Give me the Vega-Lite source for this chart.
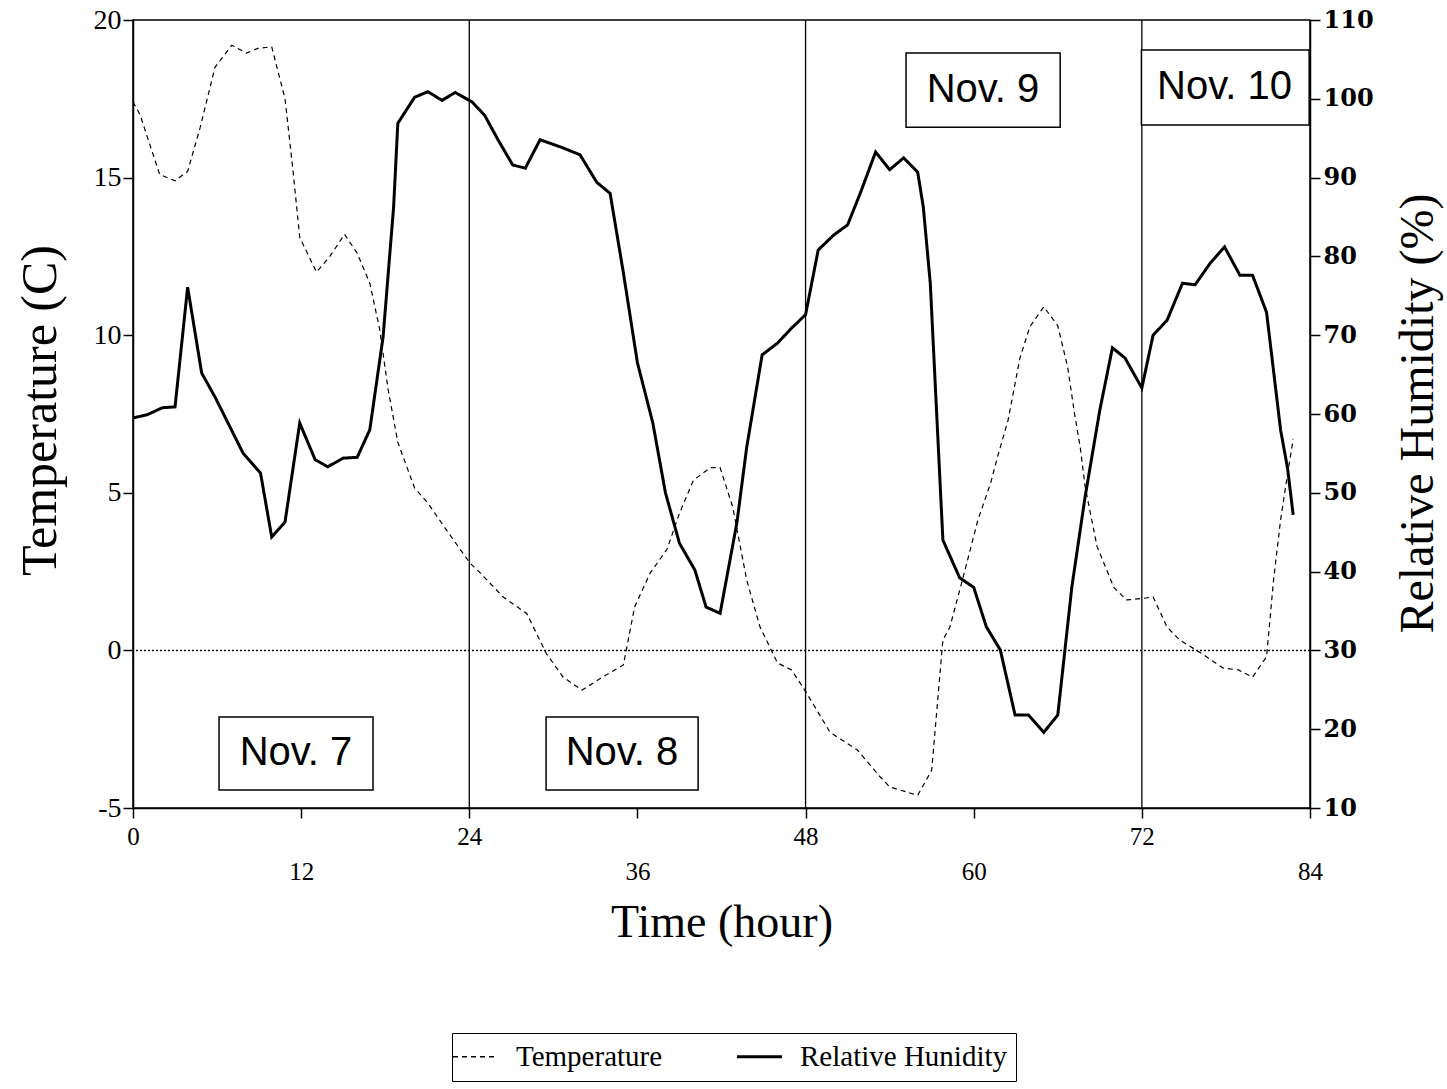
{
  "$schema": "https://vega.github.io/schema/vega-lite/v6.json",
  "width": 1177,
  "height": 788,
  "autosize": {"type": "none"},
  "padding": {"left": 133, "top": 20, "right": 137, "bottom": 281},
  "background": "white",
  "config": {
    "view": {"stroke": "black", "strokeWidth": 1.5},
    "font": "Liberation Serif",
    "axis": {
      "domainColor": "black",
      "domainWidth": 1.5,
      "tickColor": "black",
      "tickWidth": 1.5,
      "tickSize": 10,
      "grid": false,
      "labelFlush": false,
      "labelFont": "Liberation Serif",
      "labelFontSize": 25,
      "labelColor": "black",
      "titleFont": "Liberation Serif",
      "titleFontSize": 46,
      "titleFontWeight": "normal",
      "titleColor": "black"
    }
  },
  "datasets": {
    "temperature": [
      {"hour": 0, "temp": 17.4}, {"hour": 0.5, "temp": 17.0}, {"hour": 1.9, "temp": 15.1},
      {"hour": 3.0, "temp": 14.9}, {"hour": 3.9, "temp": 15.2}, {"hour": 4.8, "temp": 16.6},
      {"hour": 5.85, "temp": 18.5}, {"hour": 7.05, "temp": 19.2}, {"hour": 8.1, "temp": 18.95},
      {"hour": 8.9, "temp": 19.1}, {"hour": 9.9, "temp": 19.15}, {"hour": 10.85, "temp": 17.5},
      {"hour": 11.4, "temp": 15.3}, {"hour": 11.9, "temp": 13.1}, {"hour": 13.1, "temp": 12.0},
      {"hour": 14.05, "temp": 12.5}, {"hour": 15.1, "temp": 13.2}, {"hour": 16.0, "temp": 12.6},
      {"hour": 16.9, "temp": 11.65}, {"hour": 17.6, "temp": 10.2}, {"hour": 18.2, "temp": 8.3},
      {"hour": 18.9, "temp": 6.6}, {"hour": 20.1, "temp": 5.15}, {"hour": 21.05, "temp": 4.67},
      {"hour": 22.4, "temp": 3.8}, {"hour": 24.05, "temp": 2.77}, {"hour": 24.8, "temp": 2.45},
      {"hour": 26.4, "temp": 1.7}, {"hour": 28.1, "temp": 1.17}, {"hour": 29.5, "temp": -0.1},
      {"hour": 30.7, "temp": -0.85}, {"hour": 32.05, "temp": -1.26}, {"hour": 33.5, "temp": -0.85},
      {"hour": 35.0, "temp": -0.46}, {"hour": 35.8, "temp": 1.38}, {"hour": 36.9, "temp": 2.45},
      {"hour": 38.1, "temp": 3.2}, {"hour": 39.0, "temp": 4.35}, {"hour": 40.0, "temp": 5.4},
      {"hour": 41.2, "temp": 5.8}, {"hour": 41.9, "temp": 5.8}, {"hour": 42.8, "temp": 4.55},
      {"hour": 43.8, "temp": 2.23}, {"hour": 44.75, "temp": 0.74}, {"hour": 46.0, "temp": -0.4},
      {"hour": 47.0, "temp": -0.62}, {"hour": 48.0, "temp": -1.3}, {"hour": 49.75, "temp": -2.6},
      {"hour": 51.7, "temp": -3.16}, {"hour": 53.3, "temp": -4.0}, {"hour": 54.0, "temp": -4.33},
      {"hour": 56.0, "temp": -4.6}, {"hour": 57.0, "temp": -3.8}, {"hour": 57.8, "temp": 0.33},
      {"hour": 58.3, "temp": 0.74}, {"hour": 59.25, "temp": 2.33}, {"hour": 60.3, "temp": 4.14},
      {"hour": 61.2, "temp": 5.3}, {"hour": 61.7, "temp": 6.14}, {"hour": 62.45, "temp": 7.3},
      {"hour": 63.3, "temp": 9.28}, {"hour": 64.0, "temp": 10.26}, {"hour": 65.0, "temp": 10.9},
      {"hour": 66.0, "temp": 10.3}, {"hour": 66.7, "temp": 9.0}, {"hour": 67.2, "temp": 7.5},
      {"hour": 67.6, "temp": 6.45}, {"hour": 67.95, "temp": 5.2}, {"hour": 68.8, "temp": 3.3},
      {"hour": 70.0, "temp": 2.0}, {"hour": 70.9, "temp": 1.6}, {"hour": 72.1, "temp": 1.65},
      {"hour": 72.8, "temp": 1.7}, {"hour": 73.8, "temp": 0.74}, {"hour": 74.7, "temp": 0.33},
      {"hour": 76.2, "temp": -0.08}, {"hour": 77.8, "temp": -0.56}, {"hour": 78.9, "temp": -0.62},
      {"hour": 79.9, "temp": -0.85}, {"hour": 80.9, "temp": -0.2}, {"hour": 81.4, "temp": 2.23},
      {"hour": 81.9, "temp": 4.14}, {"hour": 82.4, "temp": 5.6}, {"hour": 82.8, "temp": 6.7}
    ],
    "humidity": [
      {"hour": 0, "rh": 59.5}, {"hour": 1, "rh": 59.9}, {"hour": 2.1, "rh": 60.8},
      {"hour": 3.0, "rh": 60.9}, {"hour": 3.9, "rh": 76.1}, {"hour": 4.9, "rh": 65.2},
      {"hour": 5.9, "rh": 62.0}, {"hour": 7.85, "rh": 55.05}, {"hour": 9.1, "rh": 52.5},
      {"hour": 9.9, "rh": 44.4}, {"hour": 10.85, "rh": 46.3}, {"hour": 11.9, "rh": 58.85},
      {"hour": 13.0, "rh": 54.2}, {"hour": 13.9, "rh": 53.3}, {"hour": 15.0, "rh": 54.4},
      {"hour": 16.0, "rh": 54.5}, {"hour": 16.9, "rh": 58.0}, {"hour": 17.85, "rh": 69.8},
      {"hour": 18.6, "rh": 86.3}, {"hour": 18.9, "rh": 96.9}, {"hour": 20.1, "rh": 100.2},
      {"hour": 21.05, "rh": 100.9}, {"hour": 22.05, "rh": 99.8}, {"hour": 23.0, "rh": 100.8},
      {"hour": 24.2, "rh": 99.6}, {"hour": 25.1, "rh": 97.9}, {"hour": 26.05, "rh": 94.8},
      {"hour": 27.1, "rh": 91.6}, {"hour": 28.0, "rh": 91.2}, {"hour": 29.05, "rh": 94.8},
      {"hour": 30.5, "rh": 93.9}, {"hour": 31.9, "rh": 92.9}, {"hour": 33.1, "rh": 89.4},
      {"hour": 34.05, "rh": 88.0}, {"hour": 35.0, "rh": 77.9}, {"hour": 36.0, "rh": 66.5},
      {"hour": 37.1, "rh": 58.85}, {"hour": 38.0, "rh": 50.0}, {"hour": 39.0, "rh": 43.6},
      {"hour": 40.1, "rh": 40.2}, {"hour": 40.9, "rh": 35.5}, {"hour": 41.9, "rh": 34.7},
      {"hour": 43.1, "rh": 46.2}, {"hour": 43.8, "rh": 55.8}, {"hour": 44.9, "rh": 67.5},
      {"hour": 46.0, "rh": 69.0}, {"hour": 47.0, "rh": 70.9}, {"hour": 48.0, "rh": 72.6},
      {"hour": 48.9, "rh": 80.8}, {"hour": 50.0, "rh": 82.7}, {"hour": 51.0, "rh": 84.0},
      {"hour": 51.9, "rh": 88.0}, {"hour": 53.0, "rh": 93.25}, {"hour": 54.0, "rh": 91.0},
      {"hour": 55.0, "rh": 92.5}, {"hour": 56.0, "rh": 90.7}, {"hour": 56.4, "rh": 86.3},
      {"hour": 56.9, "rh": 76.6}, {"hour": 57.8, "rh": 44.0}, {"hour": 59.0, "rh": 39.2},
      {"hour": 60.0, "rh": 38.0}, {"hour": 60.9, "rh": 33.0}, {"hour": 61.9, "rh": 30.05},
      {"hour": 62.95, "rh": 21.8}, {"hour": 63.9, "rh": 21.8}, {"hour": 65.0, "rh": 19.6},
      {"hour": 66.0, "rh": 21.8}, {"hour": 67.0, "rh": 38.0}, {"hour": 67.95, "rh": 49.5},
      {"hour": 69.0, "rh": 60.5}, {"hour": 69.9, "rh": 68.4}, {"hour": 70.8, "rh": 67.1},
      {"hour": 72.0, "rh": 63.3}, {"hour": 72.8, "rh": 70.0}, {"hour": 73.8, "rh": 71.9},
      {"hour": 74.9, "rh": 76.6}, {"hour": 75.8, "rh": 76.4}, {"hour": 76.9, "rh": 79.2},
      {"hour": 77.9, "rh": 81.2}, {"hour": 79.0, "rh": 77.6}, {"hour": 79.9, "rh": 77.6},
      {"hour": 80.9, "rh": 72.9}, {"hour": 81.9, "rh": 58.0}, {"hour": 82.4, "rh": 53.1},
      {"hour": 82.8, "rh": 47.2}
    ],
    "midnights": [{"hour": 24}, {"hour": 48}, {"hour": 72}],
    "days": [
      {"label": "Nov. 7", "h0": 6.14, "h1": 17.13, "t0": -2.11, "t1": -4.43, "hc": 11.63, "tc": -3.27},
      {"label": "Nov. 8", "h0": 29.48, "h1": 40.33, "t0": -2.11, "t1": -4.43, "hc": 34.9, "tc": -3.27},
      {"label": "Nov. 9", "h0": 55.17, "h1": 66.17, "t0": 18.95, "t1": 16.6, "hc": 60.66, "tc": 17.78},
      {"label": "Nov. 10", "h0": 71.97, "h1": 83.94, "t0": 19.05, "t1": 16.67, "hc": 77.9, "tc": 17.86}
    ]
  },
  "layer": [
    {
      "layer": [
        {
          "data": {"name": "midnights"},
          "mark": {"type": "rule", "color": "black", "strokeWidth": 1.3},
          "encoding": {
            "x": {"field": "hour", "type": "quantitative"}
          }
        },
        {
          "data": {"values": [{"temp": 0}]},
          "mark": {"type": "rule", "color": "black", "strokeWidth": 1.5, "strokeDash": [2, 2]},
          "encoding": {
            "y": {"field": "temp", "type": "quantitative"}
          }
        },
        {
          "data": {"name": "temperature"},
          "mark": {"type": "line", "color": "black", "strokeWidth": 1.2},
          "encoding": {
            "x": {
              "field": "hour",
              "type": "quantitative",
              "scale": {"domain": [0, 84], "nice": false, "zero": false},
              "axis": {
                "values": [0, 12, 24, 36, 48, 60, 72, 84],
                "labelPadding": 6,
                "labelExpr": "datum.value % 24 === 12 ? ['', datum.label] : datum.label",
                "labelLineHeight": 35,
                "title": "Time (hour)",
                "titleY": 114,
                "titleBaseline": "middle"
              }
            },
            "y": {
              "field": "temp",
              "type": "quantitative",
              "scale": {"domain": [-5, 20], "nice": false, "zero": false},
              "axis": {
                "orient": "left",
                "values": [-5, 0, 5, 10, 15, 20],
                "labelExpr": "datum.value + ''",
                "labelFontSize": 28,
                "labelPadding": 2,
                "title": "Temperature (C)",
                "titleFontSize": 50,
                "titleAngle": 270,
                "titleBaseline": "middle",
                "titleX": -93,
                "titleY": 390
              }
            },
            "strokeDash": {
              "datum": "Temperature",
              "type": "nominal",
              "scale": {"domain": ["Temperature", "Relative Hunidity"], "range": [[5, 4], [1, 0]]},
              "legend": {
                "title": null,
                "orient": "none",
                "legendX": 319,
                "legendY": 1013,
                "direction": "horizontal",
                "padding": 9,
                "strokeColor": "black",
                "fillColor": "white",
                "symbolType": "stroke",
                "symbolSize": 2025,
                "symbolStrokeColor": "black",
                "symbolStrokeWidth": 1.5,
                "labelFont": "Liberation Serif",
                "labelFontSize": 29,
                "labelColor": "black",
                "labelOffset": 26,
                "labelLimit": 400,
                "columnPadding": 68,
                "encode": {
                  "symbols": {"update": {"strokeWidth": {"signal": "datum.label === 'Temperature' ? 1.3 : 3"}}}
                }
              }
            }
          }
        },
        {
          "data": {"name": "days"},
          "mark": {"type": "rect", "fill": "white", "stroke": "black", "strokeWidth": 1.5},
          "encoding": {
            "x": {"field": "h0", "type": "quantitative"},
            "x2": {"field": "h1"},
            "y": {"field": "t0", "type": "quantitative"},
            "y2": {"field": "t1"}
          }
        },
        {
          "data": {"name": "days"},
          "mark": {"type": "text", "font": "Liberation Sans", "fontSize": 40, "color": "black", "baseline": "middle", "align": "center"},
          "encoding": {
            "x": {"field": "hc", "type": "quantitative"},
            "y": {"field": "tc", "type": "quantitative"},
            "text": {"field": "label"}
          }
        }
      ]
    },
    {
      "data": {"name": "humidity"},
      "mark": {"type": "line", "color": "black", "strokeWidth": 3},
      "encoding": {
        "x": {"field": "hour", "type": "quantitative"},
        "y": {
          "field": "rh",
          "type": "quantitative",
          "scale": {"domain": [10, 110], "nice": false, "zero": false},
          "axis": {
            "orient": "right",
            "values": [10, 20, 30, 40, 50, 60, 70, 80, 90, 100, 110],
            "labelPadding": 3,
            "labelFont": "DejaVu Serif",
            "labelFontSize": 24,
            "labelFontWeight": "bold",
            "title": "Relative Humidity (%)",
            "titleFontSize": 48,
            "titleAngle": 270,
            "titleBaseline": "middle",
            "titleX": 108,
            "titleY": 393
          }
        },
        "strokeDash": {"datum": "Relative Hunidity", "type": "nominal"}
      }
    }
  ],
  "resolve": {"scale": {"y": "independent"}}
}
